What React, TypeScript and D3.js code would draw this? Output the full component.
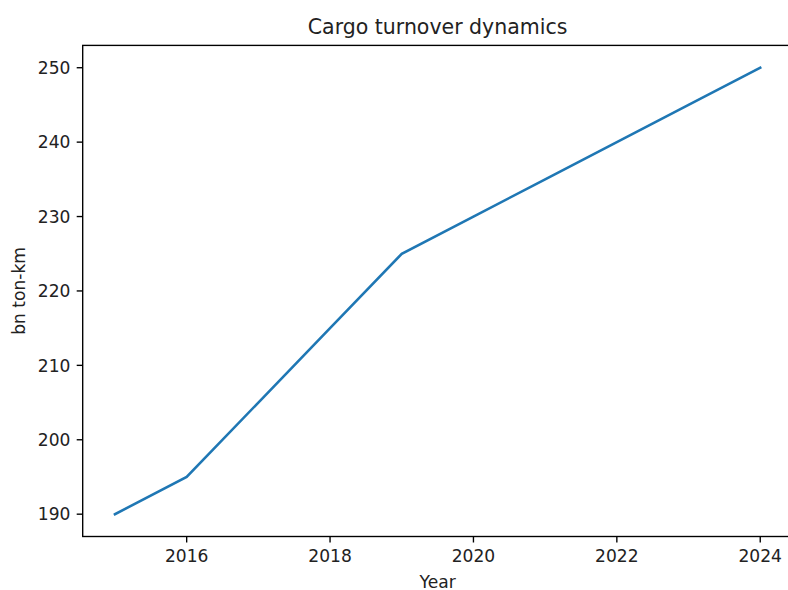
import React from "react";
import * as d3 from "d3";

const years = [2015, 2016, 2017, 2018, 2019, 2020, 2021, 2022, 2023, 2024];
const values = [190, 195, 205, 215, 225, 230, 235, 240, 245, 250];
const xTicks = [2016, 2018, 2020, 2022, 2024];
const yTicks = [190, 200, 210, 220, 230, 240, 250];

const W = 788;
const H = 590;
const left = 82.7;
const right = 792.5;
const top = 45.4;
const bottom = 536.5;
const font = "DejaVu Sans, sans-serif";
const tickFont = 17.1;

export default function App() {
  const x = d3.scaleLinear().domain([2015 - 0.45, 2024 + 0.45]).range([left, right]);
  const y = d3.scaleLinear().domain([190 - 3, 250 + 3]).range([bottom, top]);
  const line = d3
    .line<number>()
    .x((_, i) => x(years[i]))
    .y((d) => y(d));
  const cx = (left + right) / 2;
  return (
    <svg
      width={W}
      height={H}
      style={{ position: "absolute", left: 0, top: 0, background: "#fff" }}
    >
      <rect x={0} y={0} width={W} height={H} fill="#fff" />
      <path d={line(values) || ""} fill="none" stroke="#1f77b4" strokeWidth={2.56} strokeLinecap="square" />
      <rect
        x={left}
        y={top}
        width={right - left}
        height={bottom - top}
        fill="none"
        stroke="#000"
        strokeWidth={1.37}
      />
      {xTicks.map((t) => (
        <g key={t}>
          <line x1={x(t)} x2={x(t)} y1={bottom} y2={bottom + 6} stroke="#000" strokeWidth={1.37} />
          <text x={x(t)} y={562} textAnchor="middle" fontFamily={font} fontSize={tickFont} fill="#222">
            {t}
          </text>
        </g>
      ))}
      {yTicks.map((t) => (
        <g key={t}>
          <line x1={left - 6} x2={left} y1={y(t)} y2={y(t)} stroke="#000" strokeWidth={1.37} />
          <text x={70.5} y={y(t) + 6.2} textAnchor="end" fontFamily={font} fontSize={tickFont} fill="#222">
            {t}
          </text>
        </g>
      ))}
      <text x={cx} y={33.5} textAnchor="middle" fontFamily={font} fontSize={20.5} fill="#222">
        Cargo turnover dynamics
      </text>
      <text x={cx} y={587.5} textAnchor="middle" fontFamily={font} fontSize={tickFont} fill="#222">
        Year
      </text>
      <text
        transform={`translate(25,${(top + bottom) / 2}) rotate(-90)`}
        textAnchor="middle"
        fontFamily={font}
        fontSize={tickFont}
        fill="#222"
      >
        bn ton-km
      </text>
    </svg>
  );
}
